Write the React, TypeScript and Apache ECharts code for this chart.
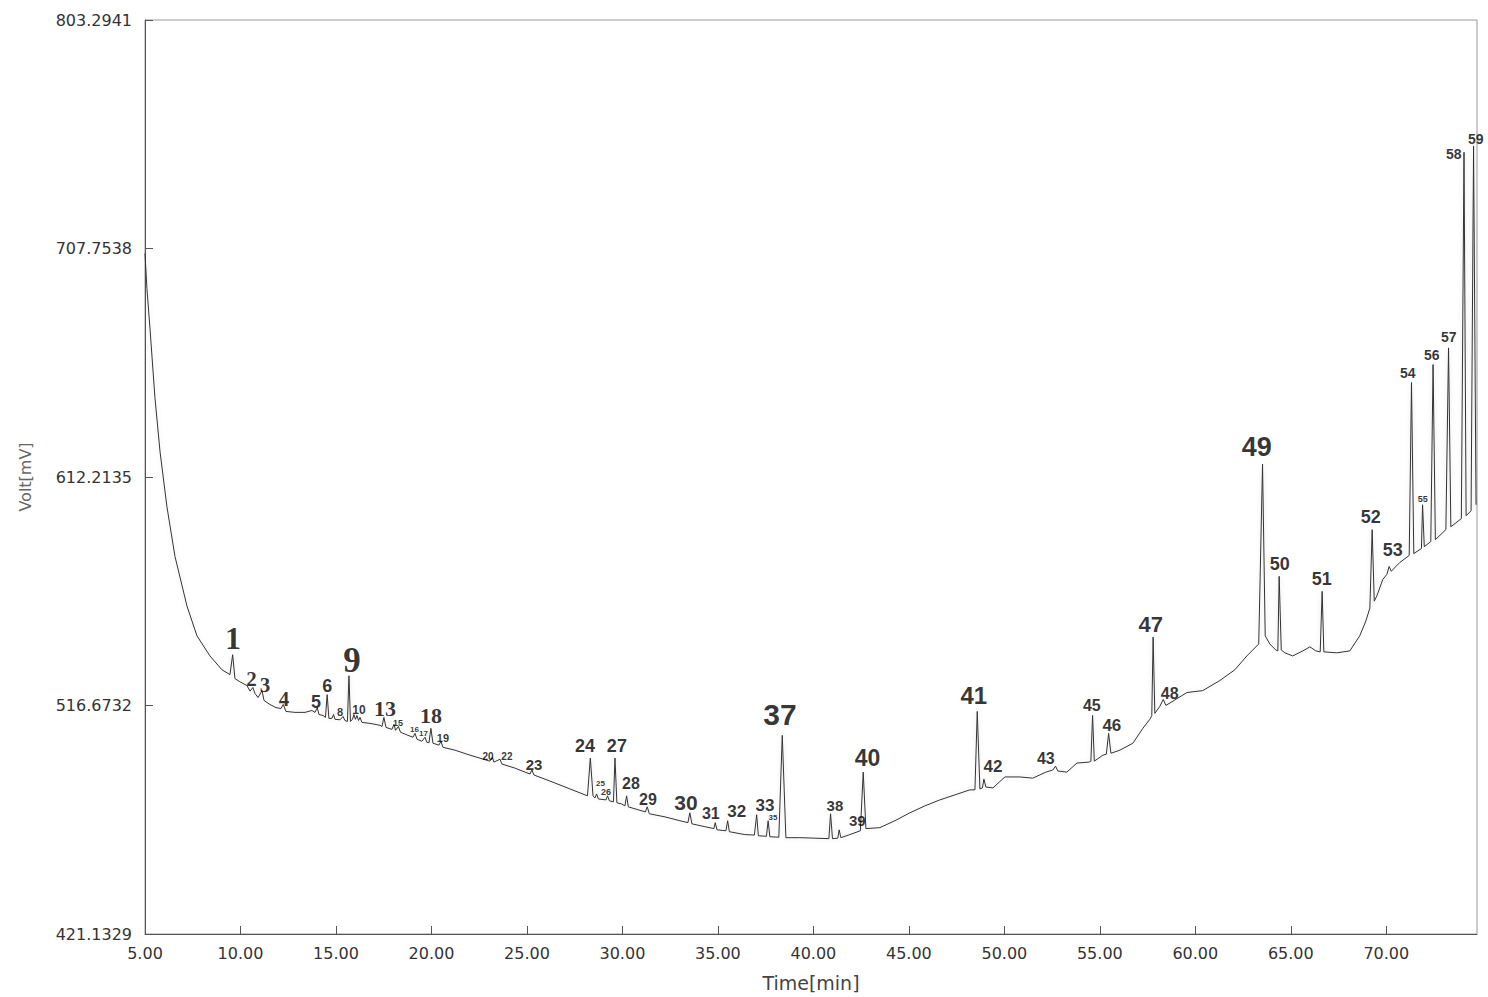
import React, { useEffect, useRef } from "react";
import * as echarts from "echarts";

// ---------- axis data ----------
const yTickValues = [421.1329, 516.6732, 612.2135, 707.7538, 803.2941];
const xMin = 5;
const xMax = 74.75;
const xStep = 5;

// ---------- chromatogram trace: [time (min), signal (mV)] ----------
const trace: [number, number][] = [
  [5.0, 705.7], [5.1, 691.1], [5.26, 674.5], [5.52, 645.4], [5.79, 622.6],
  [6.15, 599.7], [6.57, 579.0], [7.2, 558.2], [7.72, 545.8], [8.4, 537.4],
  [9.03, 531.6], [9.45, 529.6], [9.59, 537.9], [9.71, 527.9], [9.97, 526.6],
  [10.34, 525.0], [10.5, 522.7], [10.65, 524.2], [10.76, 521.7], [10.92, 520.0],
  [11.13, 522.9], [11.23, 518.8], [11.54, 517.1], [11.86, 515.8], [12.12, 515.4],
  [12.24, 517.1], [12.38, 514.2], [12.85, 513.8], [13.38, 513.8], [13.74, 514.6],
  [13.9, 513.8], [14.02, 515.8], [14.11, 512.9], [14.32, 512.5], [14.45, 511.7],
  [14.54, 521.2], [14.63, 511.3], [14.79, 511.3], [14.87, 512.9], [14.95, 510.9],
  [15.21, 510.7], [15.37, 512.1], [15.47, 510.4], [15.6, 510.0], [15.68, 529.1],
  [15.76, 510.0], [15.87, 511.0], [15.94, 512.9], [16.02, 510.9], [16.1, 512.5],
  [16.18, 510.4], [16.26, 511.7], [16.36, 509.6], [16.78, 509.2], [17.3, 508.4],
  [17.41, 507.9], [17.51, 511.7], [17.62, 507.5], [17.93, 506.7], [18.04, 508.8],
  [18.12, 506.3], [18.27, 507.9], [18.38, 505.5], [18.77, 504.2], [19.03, 503.4],
  [19.14, 505.0], [19.24, 502.6], [19.5, 501.7], [19.66, 503.4], [19.76, 501.3],
  [19.87, 501.1], [19.97, 507.1], [20.08, 500.9], [20.39, 500.1], [20.5, 501.7],
  [20.6, 499.2], [21.23, 498.0], [22.02, 495.9], [23.06, 493.4], [23.19, 495.1],
  [23.27, 493.0], [23.59, 494.2], [23.69, 492.2], [24.37, 490.5], [25.16, 488.0],
  [25.26, 489.7], [25.37, 487.6], [26.2, 485.1], [27.25, 481.8], [28.04, 479.3],
  [28.17, 478.9], [28.32, 494.7], [28.46, 478.9], [28.56, 478.0], [28.65, 479.7],
  [28.74, 477.6], [29.14, 477.2], [29.22, 478.9], [29.32, 476.8], [29.53, 476.4],
  [29.61, 494.7], [29.71, 476.0], [29.97, 475.5], [30.13, 474.7], [30.22, 478.9],
  [30.31, 474.3], [30.81, 473.1], [31.2, 472.2], [31.3, 474.3], [31.41, 471.4],
  [32.23, 470.1], [33.01, 468.5], [33.43, 467.7], [33.53, 471.8], [33.64, 467.2],
  [34.32, 466.0], [34.79, 465.2], [34.86, 467.7], [34.95, 464.7], [35.42, 464.3],
  [35.51, 468.5], [35.6, 463.9], [36.41, 462.7], [36.91, 462.5], [37.03, 471.0],
  [37.12, 462.2], [37.54, 462.0], [37.63, 468.5], [37.72, 461.8], [38.19, 461.6],
  [38.37, 504.2], [38.56, 461.4], [39.29, 461.4], [40.08, 461.2], [40.81, 461.0],
  [40.9, 471.4], [41.0, 461.0], [41.28, 461.2], [41.35, 464.7], [41.44, 461.4],
  [41.91, 462.7], [42.46, 464.3], [42.61, 488.8], [42.75, 465.2], [43.48, 465.6],
  [44.27, 468.5], [45.05, 471.8], [45.84, 474.7], [46.62, 477.2], [47.41, 479.3],
  [48.19, 481.4], [48.46, 481.4], [48.58, 514.2], [48.72, 481.8], [48.85, 482.2],
  [48.93, 485.9], [49.03, 482.6], [49.4, 482.2], [50.03, 486.8], [50.81, 486.8],
  [51.49, 486.3], [52.17, 488.8], [52.54, 489.7], [52.68, 491.3], [52.8, 489.3],
  [53.27, 488.8], [53.8, 492.6], [54.42, 493.0], [54.53, 493.4], [54.62, 512.5],
  [54.71, 493.4], [55.16, 495.9], [55.34, 496.3], [55.46, 505.0], [55.58, 496.7],
  [56.05, 498.0], [56.73, 500.9], [57.25, 507.1], [57.62, 510.9], [57.72, 512.5],
  [57.79, 545.3], [57.88, 513.4], [58.14, 516.3], [58.32, 519.2], [58.46, 516.7],
  [59.56, 522.1], [60.39, 522.9], [61.28, 527.1], [62.07, 531.6], [62.7, 537.4],
  [63.32, 542.4], [63.52, 617.6], [63.66, 545.8], [63.9, 542.4], [64.21, 539.9],
  [64.32, 539.5], [64.39, 570.7], [64.5, 539.9], [64.69, 538.7], [65.1, 537.4],
  [65.63, 539.5], [66.0, 541.2], [66.31, 539.5], [66.54, 539.1], [66.64, 564.4],
  [66.73, 539.1], [67.41, 538.7], [68.09, 539.5], [68.61, 545.8], [68.93, 552.0],
  [69.14, 557.4], [69.26, 590.2], [69.37, 560.3], [69.5, 562.4], [69.82, 569.4],
  [70.03, 571.5], [70.15, 574.8], [70.26, 572.8], [70.71, 576.5], [71.2, 579.4],
  [71.32, 651.7], [71.44, 580.2], [71.84, 582.3], [71.9, 600.6], [71.99, 583.1],
  [72.33, 585.2], [72.45, 659.2], [72.57, 586.0], [73.12, 590.2], [73.26, 666.2],
  [73.38, 591.4], [73.93, 594.8], [74.07, 748.0], [74.18, 596.0], [74.44, 598.1],
  [74.57, 750.5], [74.7, 600.6],
];

// ---------- peak annotations (label anchor in data units) ----------
const peakNames = [
  "1", "2", "3", "4", "5", "6", "8", "9", "10", "13", "15", "16", "17", "18", "19",
  "20", "22", "23", "24", "25", "26", "27", "28", "29", "30", "31", "32", "33", "35",
  "37", "38", "39", "40", "41", "42", "43", "45", "46", "47", "48", "49", "50", "51",
  "52", "53", "54", "55", "56", "57", "58", "59",
];
const peakLabelTimes = [
  9.61, 10.58, 11.28, 12.28, 13.95, 14.55, 15.21, 15.84, 16.2, 17.57, 18.25, 19.11,
  19.58, 19.97, 20.6, 22.96, 23.95, 25.37, 28.04, 28.85, 29.14, 29.71, 30.45, 31.34,
  33.33, 34.63, 35.99, 37.46, 37.88, 38.25, 41.13, 42.3, 42.83, 48.4, 49.4, 52.17,
  54.58, 55.63, 57.67, 58.66, 63.22, 64.42, 66.62, 69.19, 70.34, 71.13, 71.91, 72.38,
  73.27, 73.53, 74.68,
];
const peakLabelVolts = [
  544.9, 527.9, 525.4, 519.6, 518.3, 525.0, 514.0, 535.4, 515.0, 515.4, 509.2, 506.7,
  504.8, 512.5, 503.0, 495.5, 495.5, 491.8, 499.6, 483.9, 480.5, 499.6, 483.9, 477.2,
  476.0, 471.4, 472.2, 474.7, 469.7, 512.9, 474.7, 468.5, 494.7, 520.8, 491.3, 494.7,
  516.7, 508.4, 550.7, 521.7, 624.7, 575.7, 569.4, 595.6, 581.5, 655.8, 603.1, 663.3,
  670.8, 747.2, 753.4,
];

// ---------- label styling ----------
const serifLabels = new Set(["1", "2", "3", "4", "9", "13", "18"]);
const labelFontSize: Record<string, number> = {
  "1": 32, "2": 21, "3": 21, "4": 21, "5": 18, "6": 18, "8": 11, "9": 35, "10": 12,
  "13": 22, "15": 9, "16": 8, "17": 8, "18": 22, "19": 11, "20": 10, "22": 10,
  "23": 15, "24": 18, "25": 8, "26": 9, "27": 18, "28": 16, "29": 16, "30": 21,
  "31": 16, "32": 17, "33": 17, "35": 8, "37": 30, "38": 15, "39": 15, "40": 23,
  "41": 24, "42": 17, "43": 16, "45": 16, "46": 17, "47": 22, "48": 16, "49": 27,
  "50": 18, "51": 18, "52": 18, "53": 18, "54": 14, "55": 9, "56": 14, "57": 14,
  "58": 14, "59": 14,
};

const AXIS_FONT = "DejaVu Sans";

export default function App() {
  const ref = useRef<HTMLDivElement>(null);

  useEffect(() => {
    document.body.style.margin = "0";
    const chart = echarts.init(ref.current as HTMLDivElement, undefined, {
      renderer: "svg",
    });

    const labelData = peakNames.map((name, i) => ({
      name,
      value: [peakLabelTimes[i], peakLabelVolts[i]],
      label: {
        fontSize: labelFontSize[name] ?? 14,
        fontFamily: serifLabels.has(name) ? "Liberation Serif" : "Liberation Sans",
      },
    }));

    chart.setOption({
      animation: false,
      backgroundColor: "#ffffff",
      grid: {
        left: 145,
        right: 11,
        top: 20,
        bottom: 57,
        show: true,
        borderColor: "#9a9a9a",
        borderWidth: 1,
        backgroundColor: "transparent",
      },
      xAxis: {
        type: "value",
        min: xMin,
        max: xMax,
        interval: xStep,
        name: "Time[min]",
        nameLocation: "middle",
        nameGap: 39,
        nameTextStyle: { fontSize: 19, color: "#444", fontFamily: AXIS_FONT },
        axisLine: { show: true, lineStyle: { color: "#555", width: 1 } },
        axisTick: { show: true, inside: true, length: 8, lineStyle: { color: "#555" } },
        axisLabel: {
          show: true,
          showMinLabel: true,
          showMaxLabel: false,
          margin: 11,
          fontSize: 16,
          color: "#333",
          fontFamily: AXIS_FONT,
          formatter: (v: number) => v.toFixed(2),
        },
        splitLine: { show: false },
      },
      yAxis: {
        type: "value",
        min: yTickValues[0],
        max: yTickValues[yTickValues.length - 1],
        name: "Volt[mV]",
        nameLocation: "middle",
        nameGap: 112,
        nameRotate: 90,
        nameTextStyle: { fontSize: 16, color: "#666", fontFamily: AXIS_FONT },
        axisLine: { show: true, lineStyle: { color: "#555", width: 1 } },
        axisTick: {
          show: true,
          inside: true,
          length: 8,
          customValues: yTickValues,
          lineStyle: { color: "#555" },
        },
        axisLabel: {
          show: true,
          customValues: yTickValues,
          margin: 13,
          fontSize: 16,
          color: "#333",
          fontFamily: AXIS_FONT,
          formatter: (v: number) => v.toFixed(4),
        },
        splitLine: { show: false },
      },
      series: [
        {
          type: "line",
          data: trace,
          showSymbol: false,
          symbol: "none",
          smooth: false,
          clip: true,
          lineStyle: {
            color: "#333",
            width: 1,
            shadowColor: "rgba(0,0,0,0.12)",
            shadowBlur: 5,
          },
          z: 2,
        },
        {
          type: "scatter",
          data: labelData,
          symbolSize: 0,
          clip: false,
          silent: true,
          label: {
            show: true,
            position: "inside",
            formatter: (p: any) => p.name,
            color: "#000",
            fontWeight: "bold",
            align: "center",
            verticalAlign: "middle",
          },
          z: 3,
        },
      ],
    });

    return () => chart.dispose();
  }, []);

  return (
    <div
      ref={ref}
      style={{ width: 1488, height: 997, background: "#fff", position: "absolute", left: 0, top: 0 }}
    />
  );
}
